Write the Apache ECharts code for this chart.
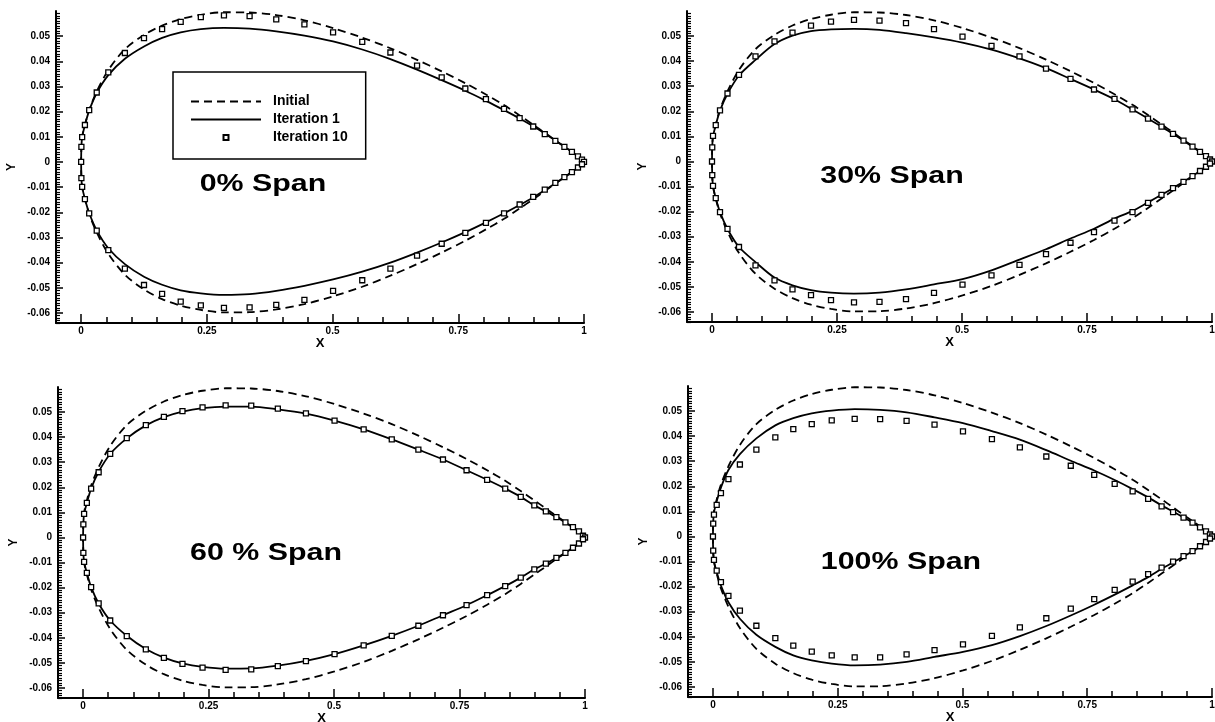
<!DOCTYPE html>
<html>
<head>
<meta charset="utf-8">
<title>Airfoil sections</title>
<script src="https://cdn.jsdelivr.net/npm/echarts@6/dist/echarts.min.js"></script>
<style>
  html, body { margin: 0; padding: 0; background: #fff; }
  #chart { width: 1215px; height: 722px; }
</style>
</head>
<body>
<div id="chart"></div>
<script>
// chordwise stations (x) shared by every section
const stations = [0, 0.0005, 0.002, 0.0075, 0.016, 0.031, 0.054, 0.087, 0.125, 0.161, 0.198, 0.238, 0.284, 0.335, 0.388, 0.444, 0.501, 0.559, 0.615, 0.668, 0.717, 0.764, 0.805, 0.841, 0.872, 0.899, 0.922, 0.943, 0.961, 0.976, 0.988, 0.996, 1.0]

// initial section (same in every panel)
const initialUpper = [0, 0.0058, 0.0100, 0.0148, 0.0207, 0.0280, 0.0365, 0.0448, 0.0505, 0.0542, 0.0568, 0.0585, 0.0595, 0.0594, 0.0584, 0.0563, 0.0532, 0.0494, 0.0452, 0.0406, 0.0360, 0.0313, 0.0268, 0.0226, 0.0185, 0.0148, 0.0116, 0.0086, 0.0061, 0.0040, 0.0022, 0.0009, 0]
const initialLower = [0, -0.0060, -0.0100, -0.0148, -0.0207, -0.0280, -0.0365, -0.0448, -0.0507, -0.0545, -0.0571, -0.0588, -0.0598, -0.0597, -0.0586, -0.0565, -0.0534, -0.0496, -0.0452, -0.0406, -0.0360, -0.0313, -0.0268, -0.0226, -0.0185, -0.0148, -0.0116, -0.0086, -0.0061, -0.0040, -0.0022, -0.0009, 0]

// 0% span
const span0Iter1Upper = [0, 0.0058, 0.0099, 0.0146, 0.0204, 0.0274, 0.0345, 0.0410, 0.0459, 0.0493, 0.0515, 0.0528, 0.0533, 0.0530, 0.0519, 0.0502, 0.0479, 0.0447, 0.0409, 0.0367, 0.0325, 0.0283, 0.0243, 0.0206, 0.0173, 0.0142, 0.0113, 0.0085, 0.0061, 0.0040, 0.0022, 0.0009, 0]
const span0Iter1Lower = [0, -0.0062, -0.0099, -0.0147, -0.0203, -0.0272, -0.0343, -0.0406, -0.0456, -0.0488, -0.0510, -0.0522, -0.0528, -0.0525, -0.0512, -0.0492, -0.0467, -0.0436, -0.0400, -0.0360, -0.0320, -0.0279, -0.0240, -0.0204, -0.0171, -0.0141, -0.0112, -0.0085, -0.0061, -0.0040, -0.0022, -0.0009, 0]
const span0Iter10Upper = [0, 0.0060, 0.0099, 0.0147, 0.0206, 0.0276, 0.0356, 0.0433, 0.0492, 0.0528, 0.0557, 0.0576, 0.0583, 0.0580, 0.0567, 0.0547, 0.0515, 0.0477, 0.0435, 0.0383, 0.0336, 0.0292, 0.0250, 0.0211, 0.0174, 0.0141, 0.0111, 0.0084, 0.0060, 0.0040, 0.0022, 0.0009, 0]
const span0Iter10Lower = [0, -0.0064, -0.0099, -0.0148, -0.0204, -0.0273, -0.0350, -0.0424, -0.0489, -0.0524, -0.0555, -0.0570, -0.0580, -0.0578, -0.0568, -0.0548, -0.0512, -0.0470, -0.0424, -0.0372, -0.0325, -0.0282, -0.0242, -0.0204, -0.0169, -0.0139, -0.0110, -0.0083, -0.0060, -0.0040, -0.0022, -0.0009, 0]

// 30% span
const span30Iter1Upper = [0, 0.0056, 0.0100, 0.0145, 0.0203, 0.0270, 0.0343, 0.0405, 0.0468, 0.0502, 0.0520, 0.0527, 0.0529, 0.0525, 0.0512, 0.0495, 0.0474, 0.0446, 0.0411, 0.0372, 0.0329, 0.0287, 0.0248, 0.0207, 0.0171, 0.0139, 0.0110, 0.0083, 0.0059, 0.0038, 0.0021, 0.0008, 0]
const span30Iter1Lower = [0, -0.0054, -0.0097, -0.0146, -0.0202, -0.0269, -0.0341, -0.0401, -0.0463, -0.0494, -0.0513, -0.0523, -0.0527, -0.0523, -0.0510, -0.0490, -0.0469, -0.0434, -0.0391, -0.0350, -0.0307, -0.0268, -0.0228, -0.0197, -0.0163, -0.0133, -0.0106, -0.0081, -0.0058, -0.0038, -0.0021, -0.0008, 0]
const span30Iter10Upper = [0, 0.0056, 0.0102, 0.0145, 0.0204, 0.0271, 0.0345, 0.0419, 0.0479, 0.0514, 0.0542, 0.0558, 0.0565, 0.0562, 0.0552, 0.0528, 0.0498, 0.0461, 0.0419, 0.0370, 0.0329, 0.0287, 0.0250, 0.0208, 0.0171, 0.0139, 0.0110, 0.0083, 0.0059, 0.0038, 0.0021, 0.0008, 0]
const span30Iter10Lower = [0, -0.0054, -0.0097, -0.0146, -0.0202, -0.0269, -0.0341, -0.0414, -0.0474, -0.0510, -0.0533, -0.0553, -0.0562, -0.0560, -0.0549, -0.0524, -0.0491, -0.0454, -0.0412, -0.0369, -0.0324, -0.0282, -0.0236, -0.0202, -0.0165, -0.0133, -0.0106, -0.0081, -0.0058, -0.0038, -0.0021, -0.0008, 0]

// 60% span
const span60Iter1Upper = [0, 0.0052, 0.0094, 0.0138, 0.0195, 0.0262, 0.0333, 0.0395, 0.0447, 0.0480, 0.0502, 0.0516, 0.0522, 0.0522, 0.0511, 0.0494, 0.0466, 0.0431, 0.0391, 0.0350, 0.0311, 0.0268, 0.0230, 0.0195, 0.0162, 0.0128, 0.0104, 0.0081, 0.0060, 0.0041, 0.0024, 0.0007, 0]
const span60Iter1Lower = [0, -0.0061, -0.0097, -0.0141, -0.0198, -0.0263, -0.0331, -0.0392, -0.0445, -0.0479, -0.0502, -0.0516, -0.0523, -0.0522, -0.0511, -0.0492, -0.0465, -0.0430, -0.0392, -0.0352, -0.0310, -0.0270, -0.0230, -0.0194, -0.0160, -0.0127, -0.0104, -0.0081, -0.0061, -0.0041, -0.0024, -0.0007, 0]
const span60Iter10Upper = [0, 0.0052, 0.0094, 0.0138, 0.0195, 0.0260, 0.0333, 0.0396, 0.0448, 0.0481, 0.0504, 0.0519, 0.0527, 0.0526, 0.0514, 0.0495, 0.0466, 0.0431, 0.0391, 0.0350, 0.0311, 0.0268, 0.0230, 0.0195, 0.0162, 0.0128, 0.0104, 0.0081, 0.0060, 0.0041, 0.0024, 0.0007, 0]
const span60Iter10Lower = [0, -0.0061, -0.0097, -0.0141, -0.0198, -0.0263, -0.0331, -0.0393, -0.0446, -0.0480, -0.0504, -0.0519, -0.0528, -0.0526, -0.0513, -0.0493, -0.0465, -0.0430, -0.0392, -0.0352, -0.0310, -0.0270, -0.0230, -0.0194, -0.0160, -0.0127, -0.0104, -0.0081, -0.0061, -0.0041, -0.0024, -0.0007, 0]

// 100% span
const span100Iter1Upper = [0, 0.0055, 0.0095, 0.0140, 0.0195, 0.0265, 0.0328, 0.0391, 0.0443, 0.0472, 0.0491, 0.0502, 0.0508, 0.0505, 0.0495, 0.0475, 0.0452, 0.0420, 0.0386, 0.0344, 0.0302, 0.0263, 0.0225, 0.0189, 0.0156, 0.0124, 0.0099, 0.0076, 0.0056, 0.0037, 0.0021, 0.0008, 0]
const span100Iter1Lower = [0, -0.0058, -0.0097, -0.0142, -0.0196, -0.0262, -0.0328, -0.0392, -0.0440, -0.0474, -0.0494, -0.0507, -0.0514, -0.0511, -0.0500, -0.0480, -0.0460, -0.0433, -0.0397, -0.0357, -0.0315, -0.0272, -0.0232, -0.0195, -0.0162, -0.0129, -0.0103, -0.0080, -0.0059, -0.0040, -0.0022, -0.0008, 0]
const span100Iter10Upper = [0, 0.0051, 0.0087, 0.0126, 0.0173, 0.0229, 0.0287, 0.0346, 0.0395, 0.0428, 0.0448, 0.0463, 0.0469, 0.0468, 0.0461, 0.0446, 0.0419, 0.0388, 0.0355, 0.0319, 0.0282, 0.0246, 0.0210, 0.0180, 0.0150, 0.0120, 0.0097, 0.0075, 0.0055, 0.0036, 0.0020, 0.0008, 0]
const span100Iter10Lower = [0, -0.0056, -0.0093, -0.0136, -0.0182, -0.0237, -0.0296, -0.0356, -0.0405, -0.0435, -0.0459, -0.0474, -0.0482, -0.0482, -0.0470, -0.0453, -0.0430, -0.0396, -0.0362, -0.0326, -0.0288, -0.0250, -0.0213, -0.0180, -0.0150, -0.0124, -0.0100, -0.0078, -0.0058, -0.0039, -0.0022, -0.0008, 0]

// tick labels
const xMajorTicks = [0, 0.25, 0.5, 0.75, 1]
const xMinorTicks = [0.05, 0.1, 0.15, 0.2, 0.3, 0.35, 0.4, 0.45, 0.55, 0.6, 0.65, 0.7, 0.8, 0.85, 0.9, 0.95]
const yMajorTicks = [-0.06, -0.05, -0.04, -0.03, -0.02, -0.01, 0, 0.01, 0.02, 0.03, 0.04, 0.05]
const yMinorTicks = []
for (let i = -64; i <= 60; i++) {
    if (i % 10 !== 0) yMinorTicks.push(i / 1000)
}

const panelTitles = ["0% Span", "30% Span", "60 % Span", "100% Span"]
const panelIter1 = [
    [span0Iter1Upper, span0Iter1Lower],
    [span30Iter1Upper, span30Iter1Lower],
    [span60Iter1Upper, span60Iter1Lower],
    [span100Iter1Upper, span100Iter1Lower],
]
const panelIter10 = [
    [span0Iter10Upper, span0Iter10Lower],
    [span30Iter10Upper, span30Iter10Lower],
    [span60Iter10Upper, span60Iter10Lower],
    [span100Iter10Upper, span100Iter10Lower],
]

// layout of the four plots (pixels)
const grids = [
    { left: 56, top: 11, width: 528, height: 312 },
    { left: 687, top: 11, width: 525, height: 311 },
    { left: 58, top: 387, width: 527, height: 311 },
    { left: 688, top: 386, width: 524, height: 311 },
]
const titlePos = [[263, 185], [892, 177], [266, 554], [901, 563]]

const FONT = '"Liberation Sans", Arial, Helvetica, sans-serif'
const BLACK = "#000"

// closed outline: trailing edge -> upper -> leading edge -> lower -> trailing edge
function outline(upper, lower) {
    let pts = []
    for (let i = stations.length - 1; i >= 0; i--) pts.push([stations[i], upper[i]])
    for (let i = 1; i < stations.length; i++) pts.push([stations[i], lower[i]])
    return pts
}
function markers(upper, lower) {
    let pts = []
    for (let i = 0; i < stations.length; i++) pts.push([stations[i], upper[i]])
    for (let i = 1; i < stations.length - 1; i++) pts.push([stations[i], lower[i]])
    return pts
}

let xAxes = []
let yAxes = []
let series = []
let graphics = []

grids.forEach((g, gi) => {
    // axis with line and minor ticks
    xAxes.push({
        gridIndex: gi, type: "value", min: -0.05, max: 1, position: "bottom",
        axisLine: { show: true, onZero: false, lineStyle: { color: BLACK, width: 2 } },
        axisTick: { show: true, inside: true, length: 6, customValues: xMinorTicks, lineStyle: { color: BLACK, width: 1.5 } },
        axisLabel: { show: false },
        splitLine: { show: false },
        name: "X", nameLocation: "middle", nameGap: 14,
        nameTextStyle: { fontFamily: FONT, fontWeight: "bold", fontSize: 13, color: BLACK },
    })
    // major ticks and labels
    xAxes.push({
        gridIndex: gi, type: "value", min: -0.05, max: 1, position: "bottom",
        axisLine: { show: false, onZero: false },
        axisTick: { show: true, inside: true, length: 9, customValues: xMajorTicks, lineStyle: { color: BLACK, width: 1.5 } },
        axisLabel: {
            show: true, customValues: xMajorTicks, margin: 3,
            fontFamily: FONT, fontWeight: "bold", fontSize: 10, color: BLACK,
            formatter: v => String(v),
        },
        splitLine: { show: false },
    })
    yAxes.push({
        gridIndex: gi, type: "value", min: -0.064, max: 0.06, position: "left",
        axisLine: { show: true, onZero: false, lineStyle: { color: BLACK, width: 2 } },
        axisTick: { show: true, inside: true, length: 4, customValues: yMinorTicks, lineStyle: { color: BLACK, width: 1.2 } },
        axisLabel: { show: false },
        splitLine: { show: false },
        name: "Y", nameLocation: "middle", nameGap: 38,
        nameTextStyle: { fontFamily: FONT, fontWeight: "bold", fontSize: 12, color: BLACK },
    })
    yAxes.push({
        gridIndex: gi, type: "value", min: -0.064, max: 0.06, position: "left",
        axisLine: { show: false, onZero: false },
        axisTick: { show: true, inside: true, length: 7, customValues: yMajorTicks, lineStyle: { color: BLACK, width: 1.5 } },
        axisLabel: {
            show: true, customValues: yMajorTicks, margin: 6,
            fontFamily: FONT, fontWeight: "bold", fontSize: 10, color: BLACK,
            formatter: v => (Math.abs(v) < 1e-9 ? "0" : v.toFixed(2)),
        },
        splitLine: { show: false },
    })

    series.push({
        name: "Initial", type: "line",
        xAxisIndex: gi * 2, yAxisIndex: gi * 2,
        data: outline(initialUpper, initialLower),
        symbol: "none", smooth: 0.3,
        lineStyle: { color: BLACK, width: 1.8, type: [8, 5] },
        itemStyle: { color: BLACK },
    })
    series.push({
        name: "Iteration 1", type: "line",
        xAxisIndex: gi * 2, yAxisIndex: gi * 2,
        data: outline(panelIter1[gi][0], panelIter1[gi][1]),
        symbol: "none", smooth: 0.3,
        lineStyle: { color: BLACK, width: 1.8, type: "solid" },
        itemStyle: { color: BLACK },
    })
    series.push({
        name: "Iteration 10", type: "scatter",
        xAxisIndex: gi * 2, yAxisIndex: gi * 2,
        data: markers(panelIter10[gi][0], panelIter10[gi][1]),
        symbol: "rect", symbolSize: 5,
        itemStyle: { color: "#fff", borderColor: BLACK, borderWidth: 1.3, opacity: 1 },
        z: 3,
    })

    graphics.push({
        type: "text",
        x: titlePos[gi][0], y: titlePos[gi][1],
        scaleX: 1.32,
        style: {
            text: panelTitles[gi],
            font: "bold 23px " + FONT,
            fill: BLACK,
            textAlign: "center",
            textVerticalAlign: "middle",
        },
    })
})

let myChart = echarts.init(document.getElementById("chart"), null, { renderer: "canvas" })
let option = {
    backgroundColor: "#fff",
    animation: false,
    grid: grids.map(g => Object.assign({ containLabel: false, outerBoundsMode: "none" }, g)),
    xAxis: xAxes,
    yAxis: yAxes,
    legend: {
        left: 173, top: 72,
        orient: "vertical",
        data: [
            { name: "Initial", itemStyle: { opacity: 0 } },
            { name: "Iteration 1", itemStyle: { opacity: 0 } },
            { name: "Iteration 10", icon: "path://M0 0H10V10H0Z" },
        ],
        itemWidth: 70, itemHeight: 5, itemGap: 3,
        padding: [22, 18, 14, 17],
        borderColor: BLACK, borderWidth: 1.5,
        backgroundColor: "#fff",
        selectedMode: false,
        textStyle: { fontFamily: FONT, fontWeight: "bold", fontSize: 14, color: BLACK, lineHeight: 15, padding: [0, 0, 0, 7] },
    },
    graphic: graphics,
    series: series,
}
myChart.setOption(option)
</script>
</body>
</html>
